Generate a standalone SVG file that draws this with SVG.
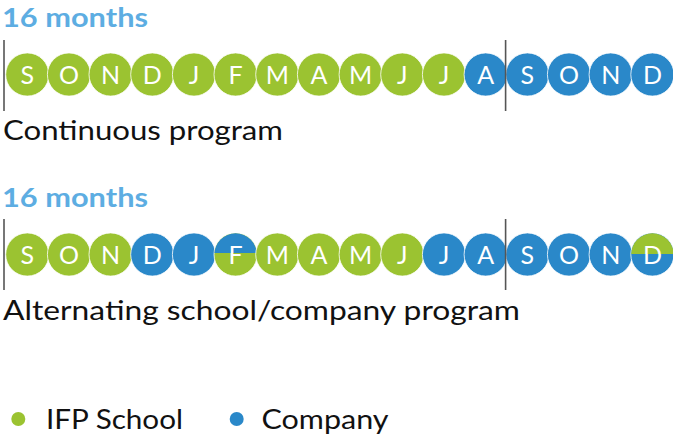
<svg xmlns="http://www.w3.org/2000/svg" width="673" height="441" viewBox="0 0 673 441">
<defs>
<style>
.g{fill:#9bc331}
.b{fill:#2a88c9}
.c{stroke:#ffffff;stroke-width:0.8}
.l{font-family:Lato,"Open Sans","Liberation Sans",sans-serif;font-size:25px;font-weight:400;fill:#ffffff;text-anchor:middle}
.h{font-family:Lato,"Open Sans","Liberation Sans",sans-serif;font-size:26px;font-weight:700;fill:#5dade2}
.t{font-family:Lato,"Open Sans","Liberation Sans",sans-serif;font-size:26px;fill:#111111}
.v{stroke:#555555;stroke-width:1.6}
</style>
<clipPath id="topF"><rect x="210" y="230" width="52" height="23"/></clipPath>
<clipPath id="topD"><rect x="628" y="230" width="52" height="24"/></clipPath>
</defs>
<rect width="673" height="441" fill="#ffffff"/>

<text class="h" x="2" y="27" textLength="146" lengthAdjust="spacingAndGlyphs">16 months</text>
<text class="t" x="3" y="140" textLength="280" lengthAdjust="spacingAndGlyphs">Continuous program</text>
<text class="h" x="2" y="207" textLength="146" lengthAdjust="spacingAndGlyphs">16 months</text>
<text class="t" x="3" y="320" textLength="517" lengthAdjust="spacingAndGlyphs">Alternating school/company program</text>

<g id="row1">
<circle class="c g" cx="27.3" cy="74.5" r="21.6"/>
<circle class="c g" cx="69" cy="74.5" r="21.6"/>
<circle class="c g" cx="110.6" cy="74.5" r="21.6"/>
<circle class="c g" cx="152.3" cy="74.5" r="21.6"/>
<circle class="c g" cx="194" cy="74.5" r="21.6"/>
<circle class="c g" cx="235.6" cy="74.5" r="21.6"/>
<circle class="c g" cx="277.3" cy="74.5" r="21.6"/>
<circle class="c g" cx="319" cy="74.5" r="21.6"/>
<circle class="c g" cx="360.7" cy="74.5" r="21.6"/>
<circle class="c g" cx="402.3" cy="74.5" r="21.6"/>
<circle class="c g" cx="444" cy="74.5" r="21.6"/>
<circle class="c b" cx="485.7" cy="74.5" r="21.6"/>
<circle class="c b" cx="527.4" cy="74.5" r="21.6"/>
<circle class="c b" cx="569" cy="74.5" r="21.6"/>
<circle class="c b" cx="610.7" cy="74.5" r="21.6"/>
<circle class="c b" cx="652.4" cy="74.5" r="21.6"/>
<text class="l" x="27.3" y="84">S</text>
<text class="l" x="69" y="84">O</text>
<text class="l" x="110.6" y="84">N</text>
<text class="l" x="152.3" y="84">D</text>
<text class="l" x="194" y="84">J</text>
<text class="l" x="235.6" y="84">F</text>
<text class="l" x="277.3" y="84">M</text>
<text class="l" x="319" y="84">A</text>
<text class="l" x="360.7" y="84">M</text>
<text class="l" x="402.3" y="84">J</text>
<text class="l" x="444" y="84">J</text>
<text class="l" x="485.7" y="84">A</text>
<text class="l" x="527.4" y="84">S</text>
<text class="l" x="569" y="84">O</text>
<text class="l" x="610.7" y="84">N</text>
<text class="l" x="652.4" y="84">D</text>
</g>

<g id="row2">
<circle class="c g" cx="27.3" cy="254.5" r="21.6"/>
<circle class="c g" cx="69" cy="254.5" r="21.6"/>
<circle class="c g" cx="110.6" cy="254.5" r="21.6"/>
<circle class="c b" cx="152.3" cy="254.5" r="21.6"/>
<circle class="c b" cx="194" cy="254.5" r="21.6"/>
<circle class="c g" cx="235.6" cy="254.5" r="21.6"/>
<circle class="b" cx="235.6" cy="254.5" r="21.2" clip-path="url(#topF)"/>
<circle class="c g" cx="277.3" cy="254.5" r="21.6"/>
<circle class="c g" cx="319" cy="254.5" r="21.6"/>
<circle class="c g" cx="360.7" cy="254.5" r="21.6"/>
<circle class="c g" cx="402.3" cy="254.5" r="21.6"/>
<circle class="c b" cx="444" cy="254.5" r="21.6"/>
<circle class="c b" cx="485.7" cy="254.5" r="21.6"/>
<circle class="c b" cx="527.4" cy="254.5" r="21.6"/>
<circle class="c b" cx="569" cy="254.5" r="21.6"/>
<circle class="c b" cx="610.7" cy="254.5" r="21.6"/>
<circle class="c b" cx="652.4" cy="254.5" r="21.6"/>
<circle class="g" cx="652.4" cy="254.5" r="21.2" clip-path="url(#topD)"/>
<text class="l" x="27.3" y="264">S</text>
<text class="l" x="69" y="264">O</text>
<text class="l" x="110.6" y="264">N</text>
<text class="l" x="152.3" y="264">D</text>
<text class="l" x="194" y="264">J</text>
<text class="l" x="235.6" y="264">F</text>
<text class="l" x="277.3" y="264">M</text>
<text class="l" x="319" y="264">A</text>
<text class="l" x="360.7" y="264">M</text>
<text class="l" x="402.3" y="264">J</text>
<text class="l" x="444" y="264">J</text>
<text class="l" x="485.7" y="264">A</text>
<text class="l" x="527.4" y="264">S</text>
<text class="l" x="569" y="264">O</text>
<text class="l" x="610.7" y="264">N</text>
<text class="l" x="652.4" y="264">D</text>
</g>

<g id="dividers">
<line class="v" x1="4" y1="40" x2="4" y2="111"/>
<line class="v" x1="505.6" y1="40" x2="505.6" y2="111"/>
<line class="v" x1="4" y1="219" x2="4" y2="290"/>
<line class="v" x1="505.6" y1="219" x2="505.6" y2="290"/>
</g>

<g id="legend">
<circle class="g" cx="18.3" cy="419" r="7"/>
<text class="t" x="46" y="429" textLength="137" lengthAdjust="spacingAndGlyphs">IFP School</text>
<circle class="b" cx="236.7" cy="419" r="7"/>
<text class="t" x="261.5" y="429" textLength="127" lengthAdjust="spacingAndGlyphs">Company</text>
</g>
</svg>
